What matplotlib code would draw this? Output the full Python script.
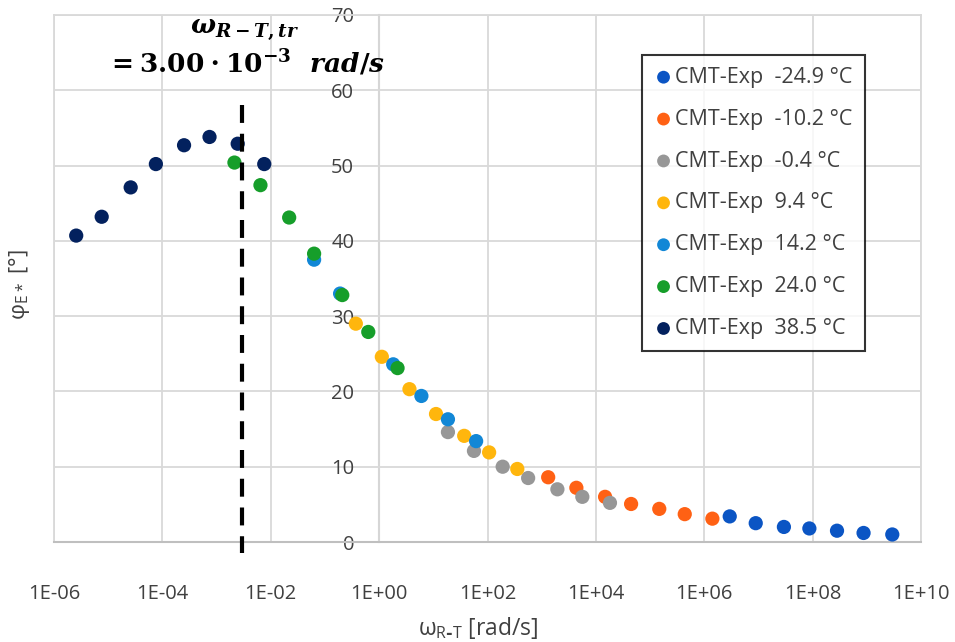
import matplotlib
matplotlib.use("Agg")
import matplotlib.pyplot as plt
import numpy as np

plt.rcParams['font.family'] = ['Open Sans', 'DejaVu Sans']
plt.rcParams['mathtext.fontset'] = 'custom'
plt.rcParams['mathtext.rm'] = 'DejaVu Serif:bold'
plt.rcParams['mathtext.it'] = 'DejaVu Serif:italic:bold'
plt.rcParams['mathtext.bf'] = 'DejaVu Serif:bold'

# log10 of reduced angular frequency and phase angle for each test temperature
labels = ['CMT-Exp  -24.9 °C', 'CMT-Exp  -10.2 °C', 'CMT-Exp  -0.4 °C',
          'CMT-Exp  9.4 °C', 'CMT-Exp  14.2 °C', 'CMT-Exp  24.0 °C',
          'CMT-Exp  38.5 °C']
colors = ['#0B55C4', '#FF6114', '#979797', '#FFB60D', '#1287D6', '#169E2A', '#03215E']

logw_m249 = [6.47, 6.95, 7.47, 7.94, 8.45, 8.94, 9.47]
phi_m249 = [3.4, 2.5, 2.0, 1.8, 1.5, 1.2, 1.0]

logw_m102 = [3.12, 3.64, 4.17, 4.65, 5.17, 5.64, 6.15]
phi_m102 = [8.6, 7.2, 6.0, 5.05, 4.4, 3.7, 3.1]

logw_m04 = [1.27, 1.75, 2.28, 2.75, 3.29, 3.75, 4.26]
phi_m04 = [14.6, 12.1, 10.0, 8.5, 7.0, 6.0, 5.2]

logw_94 = [-0.43, 0.05, 0.56, 1.05, 1.57, 2.03, 2.55]
phi_94 = [29.0, 24.6, 20.3, 17.0, 14.1, 11.9, 9.7]

logw_142 = [-1.20, -0.72, 0.26, 0.78, 1.27, 1.79]
phi_142 = [37.5, 33.0, 23.6, 19.4, 16.3, 13.4]

logw_240 = [-2.67, -2.19, -1.66, -1.20, -0.68, -0.20, 0.34]
phi_240 = [50.4, 47.4, 43.1, 38.3, 32.8, 27.9, 23.1]

logw_385 = [-5.59, -5.12, -4.585, -4.12, -3.60, -3.13, -2.61, -2.12]
phi_385 = [40.7, 43.2, 47.1, 50.2, 52.7, 53.8, 52.9, 50.2]

series_x = [logw_m249, logw_m102, logw_m04, logw_94, logw_142, logw_240, logw_385]
series_y = [phi_m249, phi_m102, phi_m04, phi_94, phi_142, phi_240, phi_385]

x_ticks = [1e-6, 1e-4, 1e-2, 1e0, 1e2, 1e4, 1e6, 1e8, 1e10]
x_tick_labels = ['1E-06', '1E-04', '1E-02', '1E+00', '1E+02', '1E+04', '1E+06', '1E+08', '1E+10']
y_ticks = [0, 10, 20, 30, 40, 50, 60, 70]
w_transition = 3.00e-3

W, H = 955, 642
fig = plt.figure(figsize=(W / 100, H / 100), dpi=100)
ax = fig.add_axes([54 / W, 1 - 542 / H, 867 / W, 527 / H])

for xs, ys, c, lab in zip(series_x, series_y, colors, labels):
    ax.scatter(10.0 ** np.array(xs), ys, s=105, color=c, label=lab,
               edgecolors='none', zorder=3)

ax.set_xscale('log')
ax.set_xlim(1e-6, 1e10)
ax.set_ylim(0, 70)
ax.set_xticks(x_ticks)
ax.set_xticklabels(x_tick_labels)
ax.minorticks_off()
ax.set_yticks(y_ticks)

ax.grid(True, color='#D9D9D9', lw=1.3, zorder=0)
for side in ['top', 'right']:
    ax.spines[side].set_color('#D9D9D9')
    ax.spines[side].set_linewidth(1.3)
ax.spines['bottom'].set_color('#BFBFBF')
ax.spines['bottom'].set_linewidth(1.5)
ax.spines['left'].set_position(('data', 1.0))
ax.spines['left'].set_color('#C4C4C4')
ax.spines['left'].set_linewidth(1.5)
ax.spines['left'].set_zorder(1)
# gridline at the left edge of the plot area
ax.axvline(1e-6, color='#D9D9D9', lw=1.3, zorder=0, clip_on=False)

ax.tick_params(axis='both', length=0, labelsize=14.5, labelcolor='#404040')
ax.tick_params(axis='x', pad=30)
ax.tick_params(axis='y', pad=18)

fig.text(478 / W, 1 - 628 / H, r'$\mathregular{ω_{R\text{-}T}}$ [rad/s]',
         fontsize=16.5, color='#404040', ha='center', va='center')
fig.text(19 / W, 1 - 285 / H, r'$\mathregular{φ_{E*}}$ [°]', fontsize=16,
         color='#404040', ha='center', va='center', rotation=90)

# transition frequency marker
ax.plot([w_transition, w_transition], [58.0, -1.5], color='black', lw=3.0,
        dashes=(4.3, 2.6), clip_on=False, zorder=4)
fig.text(245 / W, 1 - 30 / H, r'$\omega_{R-T,tr}$',
         ha='center', va='center', fontsize=19)
fig.text(246 / W, 1 - 64 / H, r'$= 3.00\cdot 10^{-3}\ \ rad/s$',
         ha='center', va='center', fontsize=19)

leg = ax.legend(loc='upper left', bbox_to_anchor=(642 / W, 1 - 55 / H),
                bbox_transform=fig.transFigure, frameon=True, fancybox=False,
                edgecolor='black', fontsize=15.5, labelspacing=0.97,
                handletextpad=0.1, handlelength=0.9, borderpad=0.55,
                markerscale=0.9, borderaxespad=0)
leg.get_frame().set_linewidth(1.5)
for t in leg.get_texts():
    t.set_color('#404040')

fig.savefig('out.png', dpi=100)
